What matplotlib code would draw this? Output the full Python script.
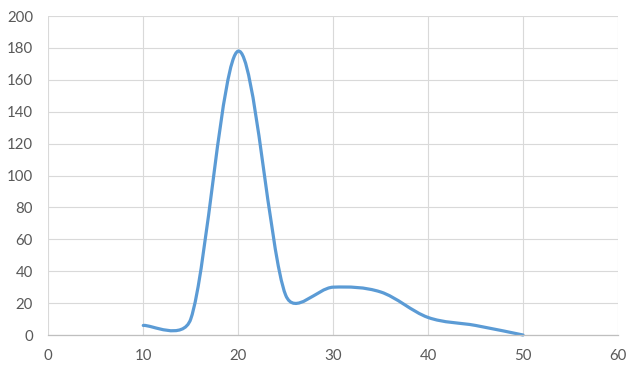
import numpy as np
import matplotlib
matplotlib.use("Agg")
import matplotlib.pyplot as plt
from matplotlib.path import Path
from matplotlib.patches import PathPatch

# data (Excel-style smoothed scatter)
x_vals = [10, 15, 20, 25, 30, 35, 40, 45, 50]
y_vals = [6, 10, 178, 25, 30, 27, 11, 6, 0]
x_ticks = [0, 10, 20, 30, 40, 50, 60]
y_ticks = [0, 20, 40, 60, 80, 100, 120, 140, 160, 180, 200]

plt.rcParams['font.family'] = ['Lato', 'DejaVu Sans']

fig = plt.figure(figsize=(6.4, 3.76), dpi=100)
ax = fig.add_axes([0.0755, 0.109, 0.8901, 0.8484])
ax.set_xlim(0, 60)
ax.set_ylim(0, 200)
ax.set_xticks(x_ticks)
ax.set_yticks(y_ticks)
ax.grid(True, color='#D9D9D9', linewidth=0.8)
ax.set_axisbelow(True)
for s in ['top', 'right', 'left']:
    ax.spines[s].set_visible(False)
ax.spines['bottom'].set_color('#BFBFBF')
ax.spines['bottom'].set_linewidth(0.9)
ax.tick_params(axis='both', length=0, labelsize=10.8, labelcolor='#595959')
ax.tick_params(axis='y', pad=11)
ax.tick_params(axis='x', pad=10)

# Excel-style smoothing: cubic Bezier, tangent tension 1/6 clamped to half the segment
fig.canvas.draw()
bbox = ax.get_window_extent()
sx = bbox.width / 60.0
sy = bbox.height / 200.0
P = np.column_stack([np.array(x_vals, float) * sx, np.array(y_vals, float) * sy])
n = len(P)
verts = [tuple(P[0])]
codes = [Path.MOVETO]
for i in range(n - 1):
    p0 = P[i - 1] if i > 0 else P[i]
    p1 = P[i]
    p2 = P[i + 1]
    p3 = P[i + 2] if i + 2 < n else P[i + 1]
    d02 = np.linalg.norm(p2 - p0)
    d12 = np.linalg.norm(p2 - p1)
    d13 = np.linalg.norm(p3 - p1)
    f1 = 1 / 6 if d02 / 6 < d12 / 2 else d12 / (2 * d02)
    f2 = 1 / 6 if d13 / 6 < d12 / 2 else d12 / (2 * d13)
    c1 = p1 + f1 * (p2 - p0)
    c2 = p2 - f2 * (p3 - p1)
    for c in (c1, c2, p2):
        verts.append(tuple(c))
        codes.append(Path.CURVE4)
verts = [(vx / sx, vy / sy) for vx, vy in verts]
patch = PathPatch(Path(verts, codes), facecolor='none', edgecolor='#5B9BD5',
                  linewidth=2.3, capstyle='round', joinstyle='round', clip_on=False)
ax.add_patch(patch)

fig.savefig('out.png', dpi=100)
